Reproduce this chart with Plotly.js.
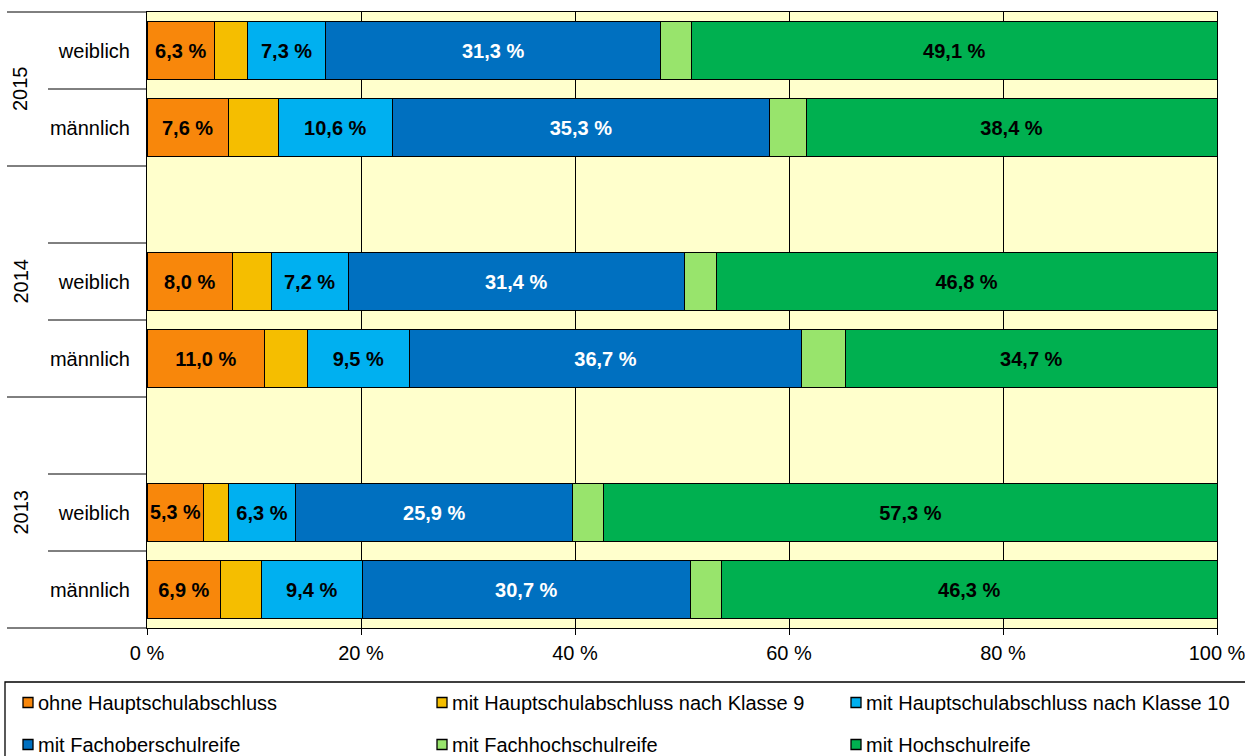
<!DOCTYPE html>
<html><head><meta charset="utf-8">
<script src="https://cdn.plot.ly/plotly-3.0.1.min.js"></script>
<style>html,body{margin:0;padding:0;background:#fff}#chart{width:1245px;height:756px}</style>
</head><body><div id="chart"></div>
<script>
// Rows (bottom to top)
const rowYears = ['2013', '2013', '2014', '2014', '2015', '2015'];
const rowSexes = ['männlich', 'weiblich', 'männlich', 'weiblich', 'männlich', 'weiblich'];
const yearGroups = ['2013', '2014', '2015'];

// Series values in % (same row order)
const ohneHauptschulabschluss = [6.9, 5.3, 11.0, 8.0, 7.6, 6.3];
const hauptschulKlasse9 = [3.8, 2.3, 4.0, 3.6, 4.7, 3.1];
const hauptschulKlasse10 = [9.4, 6.3, 9.5, 7.2, 10.6, 7.3];
const fachoberschulreife = [30.7, 25.9, 36.7, 31.4, 35.3, 31.3];
const fachhochschulreife = [2.9, 2.9, 4.1, 3.0, 3.4, 2.9];
const hochschulreife = [46.3, 57.3, 34.7, 46.8, 38.4, 49.1];

const seriesNames = ['ohne Hauptschulabschluss', 'mit Hauptschulabschluss nach Klasse 9',
  'mit Hauptschulabschluss nach Klasse 10', 'mit Fachoberschulreife',
  'mit Fachhochschulreife', 'mit Hochschulreife'];
const seriesValues = [ohneHauptschulabschluss, hauptschulKlasse9, hauptschulKlasse10,
  fachoberschulreife, fachhochschulreife, hochschulreife];
const seriesColors = ['#F8870B', '#F5BE00', '#00B0F0', '#0070C0', '#98E46C', '#00B050'];
const seriesLabelled = [true, false, true, true, false, true];
const seriesTextColors = ['#000', '#000', '#000', '#fff', '#000', '#000'];

const xTickVals = [0, 20, 40, 60, 80, 100];
const xTickText = ['0 %', '20 %', '40 %', '60 %', '80 %', '100 %'];

const FONT = 'Liberation Sans, Arial, sans-serif';
const FS = 20;

// Category list incl. blank spacer slots
const cats = [];
yearGroups.forEach((yr, gi) => {
  rowYears.forEach((ry, i) => { if (ry === yr) cats.push(ry + ' ' + rowSexes[i]); });
  if (gi < yearGroups.length - 1) cats.push(yr + ' leer');
});
const rowKeys = rowYears.map((y, i) => y + ' ' + rowSexes[i]);
const nSlots = cats.length;

const fmt = v => v.toFixed(1).replace('.', ',') + ' %';

const traces = seriesValues.map((vals, si) => ({
  type: 'bar', orientation: 'h', name: seriesNames[si],
  y: rowKeys, x: vals,
  marker: { color: seriesColors[si], line: { color: '#000', width: 1 } },
  text: seriesLabelled[si] ? vals.map(fmt) : vals.map(() => ''),
  textposition: 'inside', insidetextanchor: 'middle', textangle: 0,
  textfont: { family: FONT, size: FS, color: seriesTextColors[si], weight: 'bold' },
  hoverinfo: 'name+x', showlegend: false
}));

// Geometry helpers (pixels -> paper)
const L = 147, R = 28, T = 12, B = 128, W = 1245, H = 756;
const pw = W - L - R, ph = H - T - B;
const px2x = p => (p - L) / pw;
const py2y = p => (H - B - p) / ph;
const idx2y = v => (v + 0.5) / nSlots;

const shapes = [];
const annotations = [];

// Year group lines and labels
yearGroups.forEach(yr => {
  const idxs = cats.map((c, i) => c.startsWith(yr) ? i : -1).filter(i => i >= 0);
  const first = idxs[0], last = idxs[idxs.length - 1];
  annotations.push({ xref: 'paper', yref: 'paper', x: px2x(20), y: idx2y((first + last) / 2),
    text: yr, textangle: -90, showarrow: false, xanchor: 'center', yanchor: 'middle',
    font: { family: FONT, size: FS, color: '#000' } });
});
for (let b = 0; b <= nSlots; b++) {
  const below = cats[b - 1], above = cats[b];
  const outer = !below || !above || below.slice(0, 4) !== above.slice(0, 4);
  shapes.push({ type: 'line', xref: 'paper', yref: 'paper',
    x0: px2x(outer ? 7 : 48), x1: 0, y0: b / nSlots, y1: b / nSlots,
    line: { color: '#000', width: 1 } });
}

// Custom legend
shapes.push({ type: 'rect', xref: 'paper', yref: 'paper',
  x0: px2x(5), x1: px2x(1260), y0: py2y(682), y1: py2y(800),
  line: { color: '#000', width: 1.3 }, fillcolor: 'rgba(0,0,0,0)' });
const legColX = [23, 437, 851];
const legRowY = [702.5, 744.5];
seriesNames.forEach((nm, si) => {
  const col = si % 3, row = Math.floor(si / 3);
  const mx = legColX[col], my = legRowY[row];
  shapes.push({ type: 'rect', xref: 'paper', yref: 'paper',
    x0: px2x(mx), x1: px2x(mx + 10), y0: py2y(my - 5), y1: py2y(my + 5),
    fillcolor: seriesColors[si], line: { color: '#000', width: 1.3 } });
  annotations.push({ xref: 'paper', yref: 'paper', x: px2x(mx + 13), y: py2y(my),
    text: nm, showarrow: false, xanchor: 'left', yanchor: 'middle',
    font: { family: FONT, size: FS, color: '#000' } });
});

const layout = {
  width: W, height: H,
  margin: { l: L, r: R, t: T, b: B, pad: 0 },
  barmode: 'stack', bargap: 0.24,
  paper_bgcolor: '#fff', plot_bgcolor: '#FFFFCC',
  font: { family: FONT, size: FS, color: '#000' },
  showlegend: false,
  xaxis: {
    range: [0, 100], tickmode: 'array', tickvals: xTickVals, ticktext: xTickText,
    showgrid: true, gridcolor: '#000', gridwidth: 1, zeroline: false,
    showline: true, linecolor: '#000', linewidth: 1, mirror: true,
    ticks: 'outside', ticklen: 6, tickcolor: '#000', ticklabelstandoff: 1,
    ticklabeloverflow: 'allow',
    tickfont: { family: FONT, size: FS, color: '#000' }, fixedrange: true
  },
  yaxis: {
    type: 'category', categoryorder: 'array', categoryarray: cats,
    range: [-0.5, nSlots - 0.5],
    tickvals: rowKeys, ticktext: rowSexes,
    showgrid: false, zeroline: false,
    showline: true, linecolor: '#000', linewidth: 1, mirror: true,
    ticks: '', ticklabelstandoff: 12,
    tickfont: { family: FONT, size: FS, color: '#000' }, fixedrange: true
  },
  shapes, annotations
};

Plotly.newPlot('chart', traces, layout, { displayModeBar: false, staticPlot: true });
</script>
</body></html>
